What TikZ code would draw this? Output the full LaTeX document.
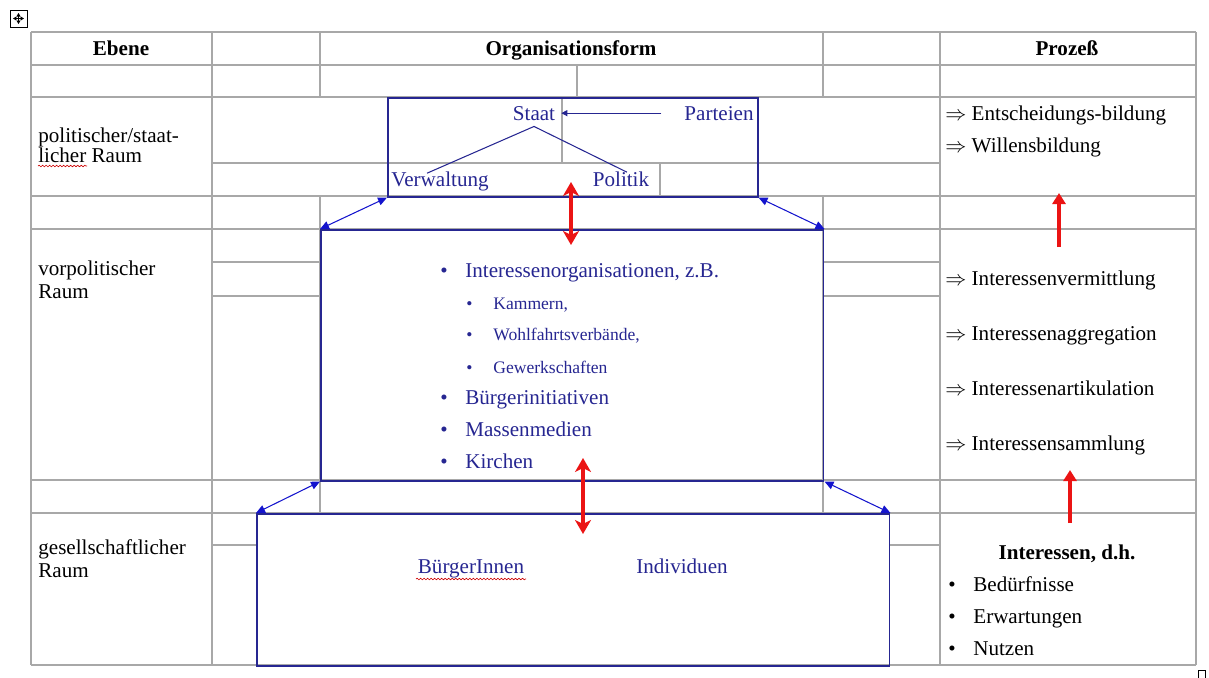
\documentclass[tikz,border=0pt]{standalone}
\usepackage{fontspec}
\setmainfont{Liberation Serif}
\usepackage{xcolor}
\usepackage{tikz}
\usetikzlibrary{
    arrows.meta,
    positioning,
    calc,
    decorations.pathmorphing
}

\definecolor{gridgray}{RGB}{168,168,168}
\definecolor{boxblue}{RGB}{38,38,145}
\definecolor{tipblue}{RGB}{20,20,205}
\definecolor{arrowred}{RGB}{235,20,20}

\begin{document}
\begin{tikzpicture}[
        x=0.02cm,
        y=-0.02cm,
        gridline/.style={
            gridgray,
            line width=0.6pt
        },
        orgbox/.style={
            rectangle,
            draw=boxblue,
            line width=0.9pt,
            inner sep=0pt,
            anchor=north west
        },
        celltext/.style={
            font=\fontsize{12}{14}\selectfont,
            inner sep=0pt,
            anchor=mid west
        },
        headtext/.style={
            font=\fontsize{12}{14}\selectfont\bfseries,
            inner sep=0pt,
            anchor=mid
        },
        orgtext/.style={
            celltext,
            text=boxblue
        },
        subtext/.style={
            orgtext,
            font=\fontsize{10}{12}\selectfont
        },
        orgname/.style={
            font=\fontsize{12}{14}\selectfont,
            text=boxblue,
            anchor=mid
        },
        bluelink/.style={
            {Triangle[length=1.8mm,width=1.6mm]}-{Triangle[length=1.8mm,width=1.6mm]},
            tipblue,
            line width=0.6pt
        },
        thinblue/.style={
            boxblue,
            line width=0.6pt
        },
        redlink/.style={
            {Stealth[length=2.8mm,width=3.2mm,inset=0.8mm]}-{Stealth[length=2.8mm,width=3.2mm,inset=0.8mm]},
            arrowred,
            line width=2.2pt
        },
        redup/.style={
            -{Triangle[length=2.2mm,width=2.6mm]},
            arrowred,
            line width=2.2pt
        },
        squiggle/.style={
            red!80!black,
            line width=0.35pt,
            decorate,
            decoration={snake, amplitude=0.45pt, segment length=2pt}
        }
    ]

    \useasboundingbox (0,0) rectangle (1209,677);

    % table grid
    \draw[gridline]
        (31,32) -- (1196,32)
        (31,65) -- (1196,65)
        (31,97) -- (1196,97)
        (212,163) -- (940,163)
        (31,196) -- (1196,196)
        (31,229) -- (1196,229)
        (212,262) -- (320,262)
        (212,296) -- (320,296)
        (823,262) -- (940,262)
        (823,296) -- (940,296)
        (31,480) -- (1196,480)
        (31,513) -- (1196,513)
        (212,545) -- (256,545)
        (889,545) -- (940,545)
        (31,665) -- (1196,665);
    \draw[gridline]
        (31,32) -- (31,665)
        (212,32) -- (212,665)
        (940,32) -- (940,665)
        (1196,32) -- (1196,665)
        (320,32) -- (320,97)
        (320,196) -- (320,513)
        (823,32) -- (823,97)
        (823,196) -- (823,513)
        (577,65) -- (577,97)
        (562,97) -- (562,163)
        (660,163) -- (660,196);

    % table handle and end mark
    \draw[line width=0.5pt] (10,10) rectangle (27,27);
    \draw[{Triangle[length=0.7mm,width=0.8mm]}-{Triangle[length=0.7mm,width=0.8mm]}, line width=0.4pt]
        (13,18.5) -- (24,18.5);
    \draw[{Triangle[length=0.7mm,width=0.8mm]}-{Triangle[length=0.7mm,width=0.8mm]}, line width=0.4pt]
        (18.5,13) -- (18.5,24);
    \draw[line width=0.5pt] (1198,670) rectangle (1205,680);

    % headings
    \node[headtext] (ebene) at (121,51) {Ebene};
    \node[headtext] (orgform) at (571,51) {Organisationsform};
    \node[headtext] (prozess) at (1067,51) {Prozeß};

    % levels
    \node[celltext] (polA) at (38,138) {politischer/staat-};
    \node[celltext] (polB) at (38,158) {licher Raum};
    \draw[squiggle] (38,166) -- (87,166);
    \node[celltext] (vorA) at (38,271) {vorpolitischer};
    \node[celltext] (vorB) at (38,294) {Raum};
    \node[celltext] (gesA) at (38,550) {gesellschaftlicher};
    \node[celltext] (gesB) at (38,573) {Raum};

    % organisation boxes
    \node[orgbox, minimum width=7.4cm, minimum height=1.98cm] (stateBox) at (387,97) {};
    \node[orgbox, minimum width=10.06cm, minimum height=5.02cm] (preBox) at (320,229) {};
    \node[orgbox, minimum width=12.66cm, minimum height=3.04cm] (socBox) at (256,513) {};

    \draw[bluelink] (stateBox.south west) -- (preBox.north west);
    \draw[bluelink] (stateBox.south east) -- (preBox.north east);
    \draw[bluelink] (preBox.south west) -- (socBox.north west);
    \draw[bluelink] (preBox.south east) -- (socBox.north east);

    % state
    \node[orgname] (staat) at (534,116) {Staat};
    \node[orgname] (parteien) at (719,116) {Parteien};
    \node[orgname] (verwaltung) at (440,182) {Verwaltung};
    \node[orgname] (politik) at (621,182) {Politik};

    \draw[thinblue, -{Triangle[length=1.2mm,width=1.2mm]}]
        ([shift={(-17,0)}]parteien.west) -- (staat.east);
    \draw[thinblue] (staat.south) -- ([shift={(-13,8)}]verwaltung.north);
    \draw[thinblue] (staat.south) -- ([shift={(6,7)}]politik.north);

    % pre-political space
    \node[orgtext] (dotA) at (440,273) {\textbullet};
    \node[orgtext] (intorg) at (465,273) {Interessenorganisationen, z.B.};
    \node[subtext] (dotB) at (466,305) {\textbullet};
    \node[subtext] (kammern) at (493,305) {Kammern,};
    \node[subtext] (dotC) at (466,336) {\textbullet};
    \node[subtext] (wohlfahrt) at (493,336) {Wohlfahrtsverbände,};
    \node[subtext] (dotD) at (466,369) {\textbullet};
    \node[subtext] (gewerk) at (493,369) {Gewerkschaften};
    \node[orgtext] (dotE) at (440,400) {\textbullet};
    \node[orgtext] (initiativen) at (465,400) {Bürgerinitiativen};
    \node[orgtext] (dotF) at (440,432) {\textbullet};
    \node[orgtext] (medien) at (465,432) {Massenmedien};
    \node[orgtext] (dotG) at (440,464) {\textbullet};
    \node[orgtext] (kirchen) at (465,464) {Kirchen};

    % society
    \node[orgname] (buerger) at (471,569) {BürgerInnen};
    \draw[squiggle] (416,579) -- (526,579);
    \node[orgname] (individuen) at (682,569) {Individuen};

    % exchange between levels
    \coordinate (upperTop) at (571,182);
    \coordinate (upperBottom) at (571,245);
    \coordinate (lowerTop) at (583,458);
    \coordinate (lowerBottom) at (583,534);
    \draw[redlink] (upperTop) -- (upperBottom);
    \draw[redlink] (lowerTop) -- (lowerBottom);

    % process
    \node[celltext] (entscheidung) at (945,116) {$\Rightarrow$ Entscheidungs-bildung};
    \node[celltext] (wille) at (945,148) {$\Rightarrow$ Willensbildung};
    \node[celltext] (vermittlung) at (945,281) {$\Rightarrow$ Interessenvermittlung};
    \node[celltext] (aggregation) at (945,336) {$\Rightarrow$ Interessenaggregation};
    \node[celltext] (artikulation) at (945,391) {$\Rightarrow$ Interessenartikulation};
    \node[celltext] (sammlung) at (945,446) {$\Rightarrow$ Interessensammlung};

    \node[headtext] (interessen) at (1067,555) {Interessen, d.h.};
    \node[celltext] (dotH) at (948,587) {\textbullet};
    \node[celltext] (beduerfnisse) at (973,587) {Bedürfnisse};
    \node[celltext] (dotI) at (948,619) {\textbullet};
    \node[celltext] (erwartungen) at (973,619) {Erwartungen};
    \node[celltext] (dotJ) at (948,651) {\textbullet};
    \node[celltext] (nutzen) at (973,651) {Nutzen};

    \coordinate (willTail) at (1059,247);
    \coordinate (willTip) at (1059,193);
    \coordinate (interTail) at (1070,523);
    \coordinate (interTip) at (1070,470);
    \draw[redup] (willTail) -- (willTip);
    \draw[redup] (interTail) -- (interTip);

\end{tikzpicture}
\end{document}
